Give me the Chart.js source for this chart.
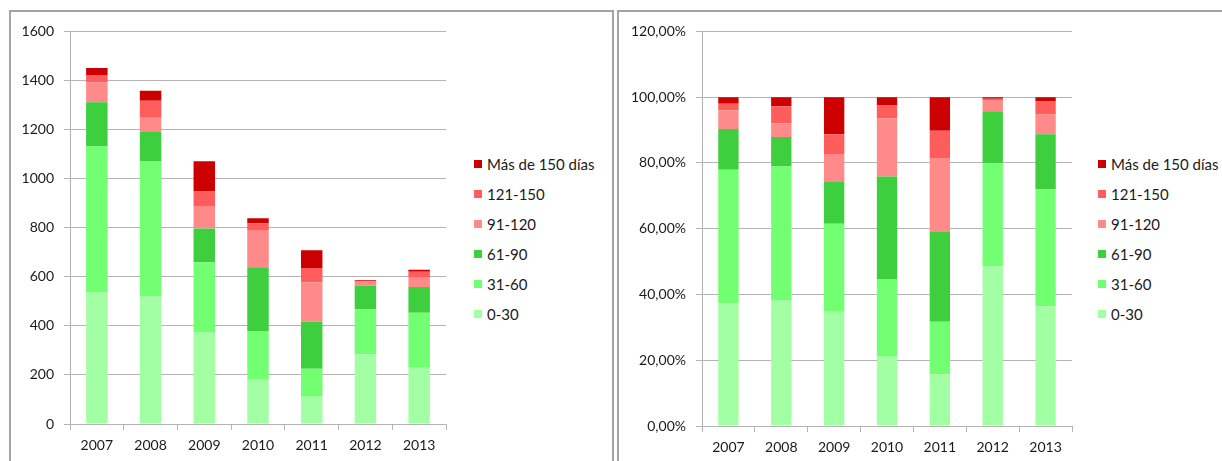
<!DOCTYPE html>
<html lang="es">
<head>
    <meta charset="UTF-8">
    <title>Antigüedad de saldos 2007-2013</title>
    <style>
        body {
            margin: 0;
            background: #fff;
            font-family: Lato, "Liberation Sans", sans-serif;
            color: #1a1a1a;
            width: 1222px;
            height: 461px;
            overflow: hidden;
            position: relative;
        }

        .panel {
            position: absolute;
            top: 10px;
            height: 480px;
            border: 2px solid #a4a4a4;
            box-sizing: border-box;
        }

        canvas {
            position: absolute;
        }

        .legend {
            position: absolute;
            top: 149px;
            margin: 0;
            padding: 0;
            list-style: none;
            font-size: 15px;
        }

        .legend li {
            display: flex;
            align-items: center;
            height: 30px;
            white-space: nowrap;
        }

        .legend .box {
            width: 8px;
            height: 8px;
            margin-right: 5px;
        }
    </style>
</head>
<body>
    <div class="panel" style="left: 9px; width: 605px;"></div>
    <div class="panel" style="left: 617px; width: 620px;"></div>

    <canvas id="countChart" width="440" height="448" style="left: 12px; top: 13px;"></canvas>
    <ul class="legend" id="countLegend" style="left: 474px;"></ul>

    <canvas id="shareChart" width="460" height="448" style="left: 620px; top: 13px;"></canvas>
    <ul class="legend" id="shareLegend" style="left: 1098px;"></ul>

    <script src="https://cdn.jsdelivr.net/npm/chart.js"></script>
    <script>
        const years = ['2007', '2008', '2009', '2010', '2011', '2012', '2013'];
        const ranges = ['0-30', '31-60', '61-90', '91-120', '121-150', 'Más de 150 días'];
        const colors = ['#a3ffa3', '#72ff72', '#3ecf3e', '#ff8a8a', '#ff5c5c', '#cc0000'];

        // number of cases by age range
        const count0to30 = [538, 522, 375, 180, 111, 284, 229];
        const count31to60 = [594, 550, 284, 199, 114, 184, 224];
        const count61to90 = [179, 118, 138, 260, 193, 95, 105];
        const count91to120 = [81, 58, 88, 149, 160, 17, 38];
        const count121to150 = [30, 69, 63, 30, 58, 3, 24];
        const countOver150 = [29, 41, 123, 21, 72, 3, 9];

        // share of each range per year (%)
        const share0to30 = [37.3, 38.3, 35.0, 21.3, 15.7, 48.5, 36.4];
        const share31to60 = [40.6, 40.6, 26.5, 23.4, 16.0, 31.4, 35.6];
        const share61to90 = [12.4, 9.0, 12.7, 31.2, 27.3, 15.8, 16.7];
        const share91to120 = [5.7, 4.1, 8.5, 17.7, 22.5, 3.2, 6.0];
        const share121to150 = [2.0, 5.2, 6.0, 3.9, 8.3, 0.6, 4.0];
        const shareOver150 = [2.0, 2.8, 11.3, 2.5, 10.2, 0.5, 1.3];

        const countTicks = [0, 200, 400, 600, 800, 1000, 1200, 1400, 1600];
        const shareTicks = [0, 20, 40, 60, 80, 100, 120];

        const countSeries = [count0to30, count31to60, count61to90, count91to120, count121to150, countOver150];
        const shareSeries = [share0to30, share31to60, share61to90, share91to120, share121to150, shareOver150];

        const tickFont = { family: 'Lato', size: 14 };
        const gridColor = '#b4b4b4';

        function buildDatasets(series, barPct) {
            return series.map((values, i) => ({
                label: ranges[i],
                data: values,
                backgroundColor: colors[i],
                borderWidth: 0,
                categoryPercentage: 1,
                barPercentage: barPct
            }));
        }

        function buildOptions(tickValues, formatLabel, yWidth, padding, xHeight) {
            return {
                responsive: false,
                animation: false,
                events: [],
                layout: { padding: padding },
                plugins: {
                    legend: { display: false },
                    tooltip: { enabled: false }
                },
                scales: {
                    x: {
                        stacked: true,
                        grid: {
                            offset: true,
                            drawOnChartArea: false,
                            drawTicks: true,
                            tickLength: 6,
                            color: gridColor
                        },
                        border: { color: gridColor },
                        ticks: { color: '#1a1a1a', font: tickFont, padding: 7 },
                        afterFit: scale => { scale.height = xHeight; }
                    },
                    y: {
                        stacked: true,
                        min: tickValues[0],
                        max: tickValues[tickValues.length - 1],
                        afterBuildTicks: scale => {
                            scale.ticks = tickValues.map(v => ({ value: v }));
                        },
                        grid: {
                            color: gridColor,
                            tickLength: 6
                        },
                        border: { color: gridColor },
                        ticks: {
                            color: '#1a1a1a',
                            font: tickFont,
                            padding: 10,
                            callback: formatLabel
                        },
                        afterFit: scale => { scale.width = yWidth; }
                    }
                }
            };
        }

        function fillLegend(id) {
            const list = document.getElementById(id);
            for (let i = ranges.length - 1; i >= 0; i--) {
                const item = document.createElement('li');
                const box = document.createElement('span');
                box.className = 'box';
                box.style.background = colors[i];
                item.appendChild(box);
                item.appendChild(document.createTextNode(ranges[i]));
                list.appendChild(item);
            }
        }

        new Chart(document.getElementById('countChart'), {
            type: 'bar',
            data: { labels: years, datasets: buildDatasets(countSeries, 0.4) },
            options: buildOptions(countTicks, v => String(v), 58, { top: 16, right: 6 }, 37)
        });

        new Chart(document.getElementById('shareChart'), {
            type: 'bar',
            data: { labels: years, datasets: buildDatasets(shareSeries, 0.385) },
            options: buildOptions(shareTicks, v => v.toFixed(2).replace('.', ',') + '%', 82, { top: 17, right: 8 }, 35)
        });

        fillLegend('countLegend');
        fillLegend('shareLegend');
    </script>
</body>
</html>
